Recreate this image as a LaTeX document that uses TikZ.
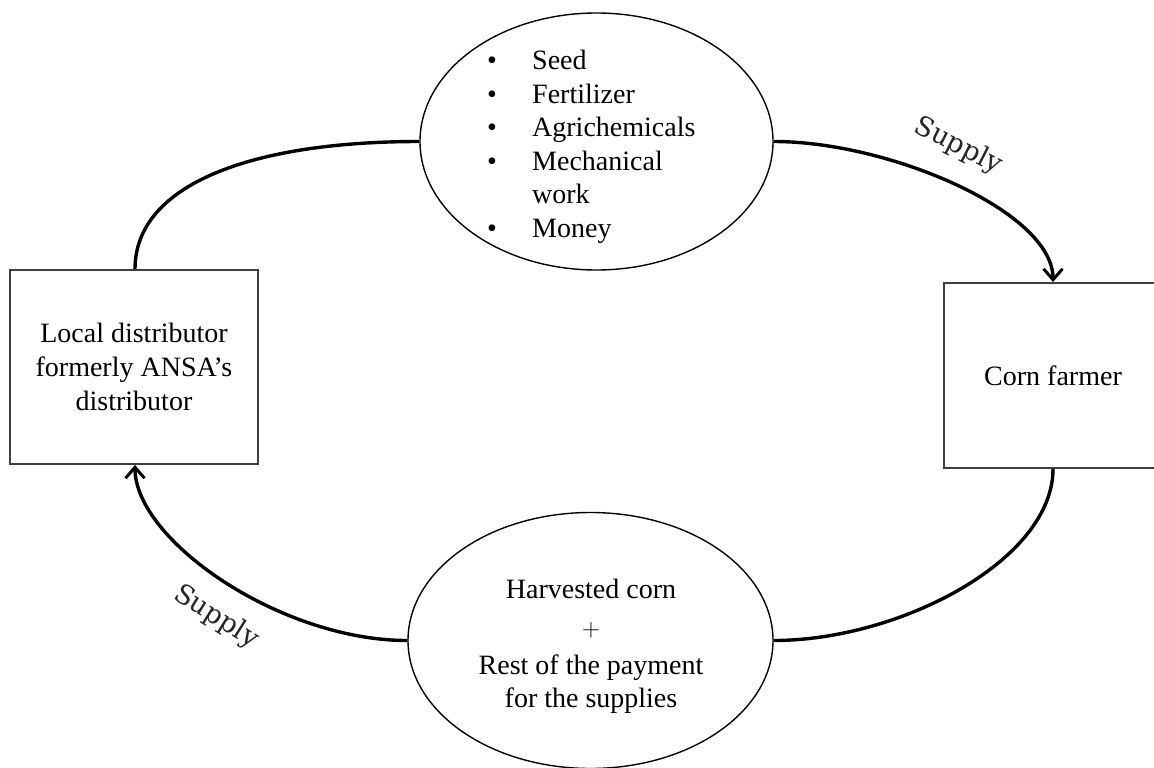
\documentclass[tikz,border=0pt]{standalone}
\usepackage{fontspec}
\setmainfont{Liberation Serif}
\newfontfamily\labelfont{DejaVu Serif}
\usetikzlibrary{shapes.geometric,arrows.meta}
\tikzset{
  oval/.style={ellipse, draw=black, line width=1.4pt, inner sep=0pt, align=center,
    font=\fontsize{28}{34}\selectfont},
  actor/.style={rectangle, draw=black!75, line width=1.9pt, inner sep=0pt, align=center,
    font=\fontsize{28}{34}\selectfont},
  flow/.style={line width=3.4pt, black},
  flowtip/.style={flow, -{Straight Barb[length=11pt,width=19pt,line width=3pt]}},
  flowlabel/.style={font=\labelfont\fontsize{27}{30}\selectfont, text=black!85}
}
\begin{document}
\begin{tikzpicture}[x=1pt,y=-1pt]
  \useasboundingbox (0,0) rectangle (1154,768);
  \clip (0,0) rectangle (1154,768);

  % the two exchange ovals
  \node[oval, minimum width=353pt, minimum height=257pt] (inputs) at (596.5,141.5) {};
  \node[font=\fontsize{28}{33.5}\selectfont, anchor=north west, inner sep=0pt] (list) at (487,46)
    {\begin{tabular}{@{}p{45pt}@{}l@{}}
      \textbullet & Seed\\
      \textbullet & Fertilizer\\
      \textbullet & Agrichemicals\\
      \textbullet & Mechanical\\
                  & work\\
      \textbullet & Money
    \end{tabular}};

  \node[oval, minimum width=365pt, minimum height=256pt] (returns) at (590.5,640.5) {};
  \node[font=\fontsize{28}{34}\selectfont, align=center, inner sep=0pt] (returntext) at (591,646)
    {Harvested corn\\[4pt] $+$\\[4pt] Rest of the payment\\[-1pt] for the supplies};

  % the two parties
  \node[actor, minimum width=248pt, minimum height=194pt] (dist) at (134,367)
    {Local distributor\\ formerly ANSA’s\\ distributor};
  \node[actor, minimum width=218pt, minimum height=185pt] (farmer) at (1053,375.5)
    {Corn farmer};

  % supply cycle
  \draw[flow] ([xshift=1pt]dist.north) .. controls (135,185) and (250,141.5) .. (inputs.west);
  \draw[flowtip] (inputs.east) .. controls (890,141.5) and (1053,212) .. (farmer.north);
  \draw[flow] (farmer.south) .. controls (1053,560) and (900,640.5) .. (returns.east);
  \draw[flowtip] (returns.west) .. controls (280,640.5) and (135,540) .. ([xshift=1pt]dist.south);

  \node[flowlabel, rotate=-27] (supplyA) at (958,146) {Supply};
  \node[flowlabel, rotate=-32] (supplyB) at (216,617) {Supply};
\end{tikzpicture}
\end{document}
